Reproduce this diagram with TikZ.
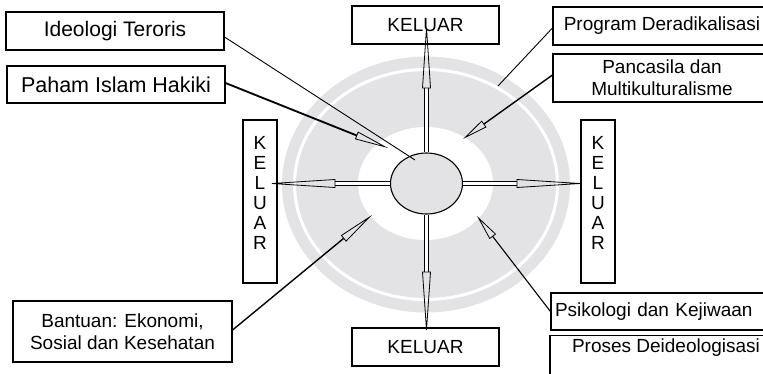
\documentclass[tikz,border=0pt]{standalone}
\usepackage{fontspec}
\setmainfont{Liberation Sans}
\usepackage{tikz}
\usetikzlibrary{calc}
\usetikzlibrary{arrows.meta,shapes}
\definecolor{discgray}{RGB}{227,227,229}
\tikzstyle{bx}=[draw,line width=1.1pt,inner sep=0pt,font=\fontsize{19}{22}\selectfont,align=center]
\tikzstyle{bigbx}=[bx,font=\fontsize{21}{24}\selectfont]
\tikzstyle{vbx}=[bx,minimum width=34pt,minimum height=163pt,font=\fontsize{19}{20}\selectfont,text depth=17pt]
\tikzstyle{inA}=[-{Triangle[open,length=#1,width=8pt,line width=0.8pt]}]
\tikzstyle{dbl}=[double=white,double distance=2.6pt,line width=0.8pt]
\tikzstyle{hollow}=[line width=0.8pt,line join=miter]

\begin{document}
\begin{tikzpicture}[x=1pt,y=-1pt]
\useasboundingbox (0,0) rectangle (763,373);
\clip (0,0) rectangle (763,373);
% background rings
\fill[discgray] (426,184.5) ellipse [x radius=144pt, y radius=128pt];
\draw[white,line width=3pt] (426,184.5) ellipse [x radius=131.5pt, y radius=115pt];
\fill[white] (425.5,183.5) ellipse [x radius=67.5pt, y radius=56.5pt];
% boxes
\node[bigbx,minimum width=218pt,minimum height=38pt] (ideo) at (115,31) {Ideologi Teroris};
\node[bigbx,minimum width=218pt,minimum height=37pt,font=\fontsize{21.5}{24}\selectfont] (paham) at (116,84.5) {Paham Islam Hakiki};
\node[bx,minimum width=219pt,minimum height=61pt] (bantu) at (122.5,331.5) {Bantuan: Ekonomi,\\Sosial dan Kesehatan};
\node[vbx] (kl) at (260,201.5) {K\\E\\L\\U\\A\\R};
\node[vbx] (kr) at (598,201.5) {K\\E\\L\\U\\A\\R};
\node[bx,minimum width=147pt,minimum height=38pt] (kt) at (425.5,25) {KELUAR};
\node[bx,minimum width=147pt,minimum height=38pt] (kb) at (425.5,347) {KELUAR};
\node[bx,minimum width=218pt,minimum height=38pt] (prog) at (662,26) {Program Deradikalisasi};
\node[bx,minimum width=218pt,minimum height=48pt] (panc) at (662,78) {Pancasila dan\\Multikulturalisme};
\node[bx,minimum width=219pt,minimum height=37pt,text width=211pt,align=left] (psik) at (660.5,311.5) {Psikologi dan Kejiwaan};
\node[bx,anchor=north,minimum width=232pt,inner ysep=3pt,text depth=26pt] (pros) at (666,335) {Proses Deideologisasi};
\node[draw,ellipse,fill=discgray,line width=1.1pt,minimum width=72pt,minimum height=61pt,inner sep=0pt] (ell) at (426.5,183.5) {};
% outward arrows
\coordinate (hu) at (426.5,88);
\coordinate (tu) at (426.5,28);
\coordinate (hd) at (426.5,272);
\coordinate (td) at (426.5,330);
\coordinate (hl) at (335,183.5);
\coordinate (tl) at (272,183.5);
\coordinate (hr) at (517,183.5);
\coordinate (tr) at (580,183.5);
\foreach \a/\b/\c in {ell.north/hu/tu,ell.south/hd/td,ell.west/hl/tl,ell.east/hr/tr}{
  \draw[dbl] (\a) -- (\b);
  \draw[hollow] ($(\b)!4pt!90:(\c)$) -- (\c) -- ($(\b)!4pt!-90:(\c)$) -- cycle;
}
% inward lines
\coordinate (e1) at (415,160);
\coordinate (e2) at (388,148);
\coordinate (e3) at (498,86);
\coordinate (e4) at (463,139);
\coordinate (e5) at (372,215);
\coordinate (e6) at (477,216);
\draw[line width=0.9pt] ([yshift=-6pt]ideo.east) -- (e1);
\draw[inA=34pt,line width=1.8pt] ([yshift=1.5pt]paham.east) -- (e2);
\draw[line width=0.9pt] ([yshift=-2pt]prog.west) -- (e3);
\draw[inA=26pt,line width=1.4pt] ([yshift=3pt]panc.west) -- (e4);
\draw[inA=37pt,line width=1.4pt] ([yshift=1.5pt]bantu.east) -- (e5);
\draw[inA=26pt,line width=1.1pt] (psik.west) -- (e6);
\end{tikzpicture}
\end{document}
